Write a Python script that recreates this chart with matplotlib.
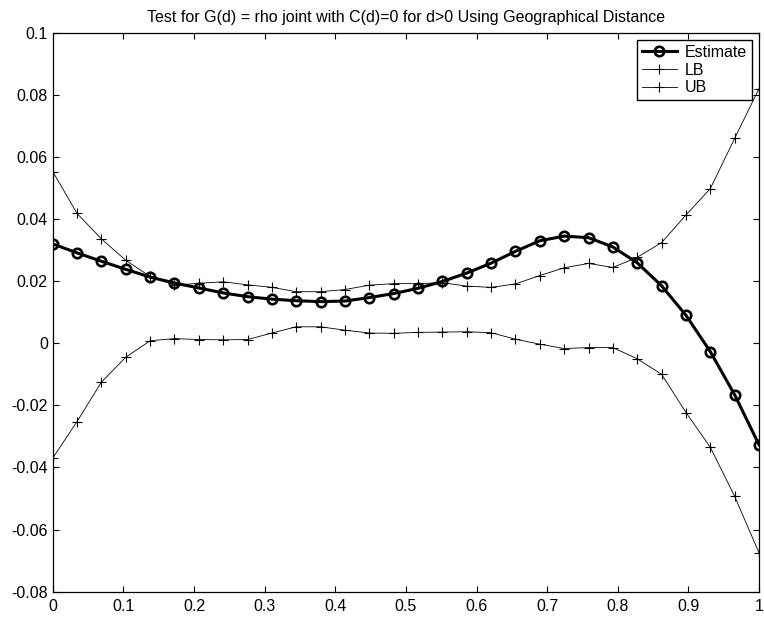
import numpy as np
import matplotlib
matplotlib.use("Agg")
import matplotlib.pyplot as plt
from matplotlib.ticker import FuncFormatter

# ---------------------------------------------------------------------------
# Data: 30 equally spaced distance bins on [0, 1]
# ---------------------------------------------------------------------------
d = np.linspace(0, 1, 30)

estimate = [0.0320, 0.0291, 0.0264, 0.0238, 0.0213, 0.0194, 0.0178, 0.0162,
            0.0150, 0.0142, 0.0137, 0.0134, 0.0136, 0.0147, 0.0160, 0.0177,
            0.0199, 0.0226, 0.0258, 0.0296, 0.0330, 0.0345, 0.0340, 0.0310,
            0.0259, 0.0185, 0.0090, -0.0027, -0.0166, -0.0327]

lb = [-0.0370, -0.0252, -0.0125, -0.0045, 0.0008, 0.0015, 0.0012, 0.0011,
      0.0012, 0.0033, 0.0053, 0.0053, 0.0042, 0.0033, 0.0032, 0.0035,
      0.0036, 0.0037, 0.0034, 0.0013, -0.0003, -0.0017, -0.0014, -0.0014,
      -0.0050, -0.0100, -0.0223, -0.0335, -0.0493, -0.0675]

ub = [0.0553, 0.0418, 0.0336, 0.0267, 0.0215, 0.0187, 0.0193, 0.0198,
      0.0188, 0.0180, 0.0166, 0.0166, 0.0173, 0.0187, 0.0192, 0.0192,
      0.0195, 0.0184, 0.0180, 0.0191, 0.0218, 0.0243, 0.0257, 0.0244,
      0.0277, 0.0324, 0.0413, 0.0498, 0.0660, 0.0820]

TITLE = "Test for G(d) = rho joint with C(d)=0 for d>0 Using Geographical Distance"

plt.rcParams["font.family"] = ["Liberation Sans", "DejaVu Sans"]
plt.rcParams["axes.unicode_minus"] = False

fig = plt.figure(figsize=(7.64, 6.17), dpi=100)
ax = fig.add_axes([0.069, 0.041, 0.9245, 0.906])

ax.plot(d, estimate, color="black", linewidth=2.2, marker="o", markersize=6.8,
        markerfacecolor="none", markeredgewidth=1.9, label="Estimate", zorder=3)
ax.plot(d, lb, color="black", linewidth=0.6, marker="+", markersize=6.5,
        markeredgewidth=0.8, label="LB")
ax.plot(d, ub, color="black", linewidth=0.6, marker="+", markersize=6.5,
        markeredgewidth=0.8, label="UB")

ax.set_xlim(0, 1)
ax.set_ylim(-0.08, 0.1)
ax.set_xticks(np.arange(0, 1.01, 0.1))
ax.set_yticks(np.arange(-0.08, 0.101, 0.02))
ax.xaxis.set_major_formatter(FuncFormatter(lambda v, p: f"{round(v, 2):g}"))
ax.yaxis.set_major_formatter(FuncFormatter(lambda v, p: f"{round(v, 3):g}"))
ax.tick_params(direction="in", length=4.5, width=0.8, top=True, right=True,
               labelsize=11.5, colors="black")
ax.tick_params(axis="y", pad=3.5)
ax.tick_params(axis="x", pad=5)
for s in ax.spines.values():
    s.set_linewidth(0.9)

ax.set_title(TITLE, fontsize=11.5, pad=8)

leg = ax.legend(loc="upper right", fontsize=11.5, frameon=True, fancybox=False,
                edgecolor="black", framealpha=1, borderpad=0.3, labelspacing=0.18,
                handlelength=2.2, handletextpad=0.5, borderaxespad=0.45)
leg.get_frame().set_linewidth(1.0)

fig.savefig("out.png", dpi=100)
